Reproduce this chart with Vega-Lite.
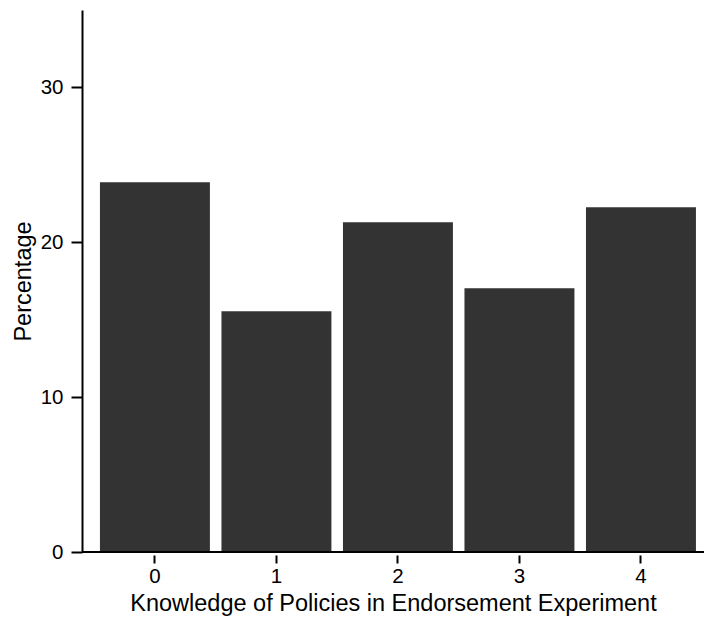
{
  "$schema": "https://vega.github.io/schema/vega-lite/v6.json",
  "width": 622,
  "height": 542,
  "autosize": {"type": "none"},
  "padding": {"left": 82, "top": 10, "right": 0, "bottom": 70},
  "background": "white",
  "config": {
    "view": {"stroke": null},
    "font": "Liberation Sans",
    "axis": {"grid": false, "labelColor": "black", "titleColor": "black", "titleFontWeight": "normal", "labelFont": "Liberation Sans", "titleFont": "Liberation Sans"}
  },
  "data": {"values": [
    {"knowledge": "0", "pct": 23.87},
    {"knowledge": "1", "pct": 15.55},
    {"knowledge": "2", "pct": 21.29},
    {"knowledge": "3", "pct": 17.03},
    {"knowledge": "4", "pct": 22.26}
  ]},
  "layer": [
    {
      "mark": {"type": "bar", "color": "#333333"},
      "encoding": {
        "x": {
          "field": "knowledge", "type": "ordinal",
          "scale": {"paddingInner": 0.095, "paddingOuter": 0.107, "align": 0.69},
          "axis": {"title": "Knowledge of Policies in Endorsement Experiment", "labelAngle": 0, "domain": false, "offset": 3, "tickSize": 8, "tickWidth": 2, "tickColor": "black", "labelFontSize": 20.5, "titleFontSize": 23.5, "labelPadding": 3, "titlePadding": 5}
        },
        "y": {
          "field": "pct", "type": "quantitative",
          "scale": {"domain": [0, 35], "nice": false},
          "axis": {"title": "Percentage", "values": [0, 10, 20, 30], "domainColor": "black", "domainWidth": 2, "tickSize": 11, "tickWidth": 2, "tickColor": "black", "labelFontSize": 20.5, "titleFontSize": 23.5, "labelPadding": 8, "titlePadding": 5}
        }
      }
    },
    {
      "mark": {"type": "rule", "color": "black", "strokeWidth": 2},
      "encoding": {"y": {"datum": 0}}
    }
  ]
}
